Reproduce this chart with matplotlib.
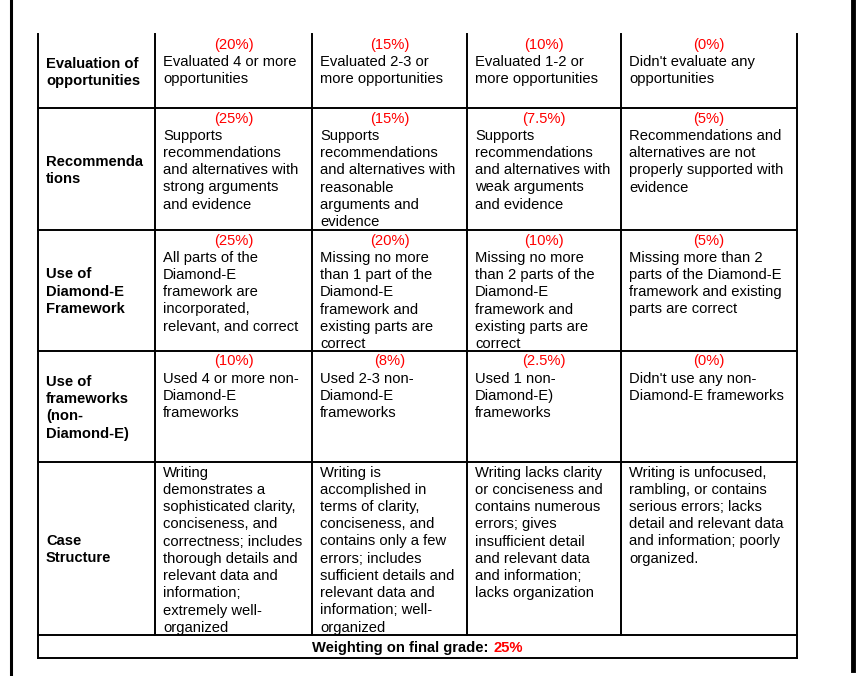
import matplotlib
matplotlib.use('Agg')
import matplotlib.pyplot as plt

plt.rcParams['font.family'] = ['Liberation Sans', 'DejaVu Sans']

# 表格内容
criteria = [
    "Evaluation of\nopportunities",
    "Recommenda\ntions",
    "Use of\nDiamond-E\nFramework",
    "Use of\nframeworks\n(non-\nDiamond-E)",
    "Case\nStructure",
]

weights = [
    ["(20%)", "(15%)", "(10%)", "(0%)"],
    ["(25%)", "(15%)", "(7.5%)", "(5%)"],
    ["(25%)", "(20%)", "(10%)", "(5%)"],
    ["(10%)", "(8%)", "(2.5%)", "(0%)"],
    ["", "", "", ""],
]

descriptions = [
    ["Evaluated 4 or more\nopportunities",
     "Evaluated 2-3 or\nmore opportunities",
     "Evaluated 1-2 or\nmore opportunities",
     "Didn't evaluate any\nopportunities"],
    ["Supports\nrecommendations\nand alternatives with\nstrong arguments\nand evidence",
     "Supports\nrecommendations\nand alternatives with\nreasonable\narguments and\nevidence",
     "Supports\nrecommendations\nand alternatives with\nweak arguments\nand evidence",
     "Recommendations and\nalternatives are not\nproperly supported with\nevidence"],
    ["All parts of the\nDiamond-E\nframework are\nincorporated,\nrelevant, and correct",
     "Missing no more\nthan 1 part of the\nDiamond-E\nframework and\nexisting parts are\ncorrect",
     "Missing no more\nthan 2 parts of the\nDiamond-E\nframework and\nexisting parts are\ncorrect",
     "Missing more than 2\nparts of the Diamond-E\nframework and existing\nparts are correct"],
    ["Used 4 or more non-\nDiamond-E\nframeworks",
     "Used 2-3 non-\nDiamond-E\nframeworks",
     "Used 1 non-\nDiamond-E)\nframeworks",
     "Didn't use any non-\nDiamond-E frameworks"],
    ["Writing\ndemonstrates a\nsophisticated clarity,\nconciseness, and\ncorrectness; includes\nthorough details and\nrelevant data and\ninformation;\nextremely well-\norganized",
     "Writing is\naccomplished in\nterms of clarity,\nconciseness, and\ncontains only a few\nerrors; includes\nsufficient details and\nrelevant data and\ninformation; well-\norganized",
     "Writing lacks clarity\nor conciseness and\ncontains numerous\nerrors; gives\ninsufficient detail\nand relevant data\nand information;\nlacks organization",
     "Writing is unfocused,\nrambling, or contains\nserious errors; lacks\ndetail and relevant data\nand information; poorly\norganized."],
]

footer_label = "Weighting on final grade:"
footer_value = "25%"

# 版面 (像素)
col_x = [38, 155, 312, 467, 621, 797]
row_y = [34, 108, 230, 351, 462, 635, 658]
FS = 10.6
LINE = 17.25
CAP = 5.2
RED = '#ff0000'

fig = plt.figure(figsize=(8.65, 6.76), dpi=100)
ax = fig.add_axes([0, 0, 1, 1])
ax.set_xlim(0, 865)
ax.set_ylim(676, 0)
ax.axis('off')

lw = 1.4
# 竖线
for x in col_x:
    ax.plot([x, x], [row_y[0], row_y[-2]], color='black', lw=lw)
for x in (col_x[0], col_x[-1]):
    ax.plot([x, x], [row_y[-2], row_y[-1]], color='black', lw=lw)
# 横线
for y in row_y[1:]:
    ax.plot([col_x[0], col_x[-1]], [y, y], color='black', lw=lw)

# 页面边框
ax.plot([11, 11], [0, 676], color='black', lw=2.2)
ax.plot([853, 853], [0, 670], color='black', lw=3.5)

for r, label in enumerate(criteria):
    top, bot = row_y[r], row_y[r + 1]
    lines = label.split('\n')
    mid = (top + bot) / 2
    start = mid - (len(lines) - 1) * LINE / 2
    for k, ln in enumerate(lines):
        ax.text(46, start + k * LINE + CAP, ln, fontsize=FS, fontweight='bold',
                ha='left', va='baseline')
    for c in range(4):
        x0, x1 = col_x[c + 1], col_x[c + 2]
        y = top + 9.3
        if weights[r][c]:
            ax.text((x0 + x1) / 2, y + CAP, weights[r][c], color=RED,
                    fontsize=FS, ha='center', va='baseline')
            y += LINE
        for ln in descriptions[r][c].split('\n'):
            ax.text(x0 + 8, y + CAP, ln, fontsize=FS, ha='left', va='baseline')
            y += LINE

# 底部权重: 先量宽度, 再分两段画
renderer = fig.canvas.get_renderer()


def text_width(s):
    tmp = ax.text(0, 0, s, fontsize=FS, fontweight='bold')
    w = tmp.get_window_extent(renderer=renderer).width
    tmp.remove()
    return w


w_label = text_width(footer_label)
w_value = text_width(footer_value)
w_space = text_width("a a") - text_width("aa")
total = w_label + w_space + w_value
x_start = (col_x[0] + col_x[-1]) / 2 - total / 2
yb = 647 + CAP
ax.text(x_start, yb, footer_label, fontsize=FS, fontweight='bold',
        ha='left', va='baseline')
ax.text(x_start + total, yb, footer_value, fontsize=FS, fontweight='bold',
        color=RED, ha='right', va='baseline')

fig.savefig('out.png', dpi=100)
